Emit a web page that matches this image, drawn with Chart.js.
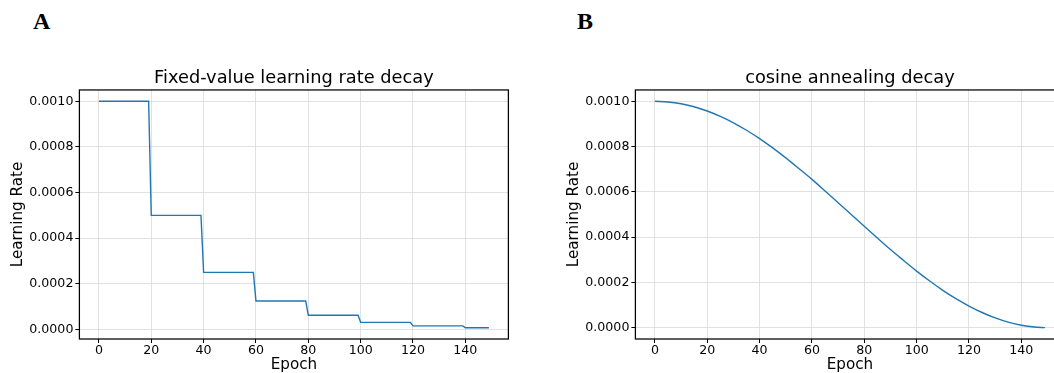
<!DOCTYPE html>
<html><head><meta charset="utf-8">
<script src="https://cdn.jsdelivr.net/npm/chart.js@4.4.0/dist/chart.umd.min.js"></script>
<style>
html,body{margin:0;padding:0;width:1054px;height:373px;overflow:hidden;background:#fff;}
canvas{position:absolute;top:0;}
.lab{position:absolute;top:9px;font-family:"Liberation Serif","Times New Roman",serif;font-weight:bold;font-size:24px;line-height:1;color:#000;}
</style></head><body>
<div class="lab" style="left:33px">A</div>
<div class="lab" style="left:577px">B</div>
<canvas id="c1" width="520" height="373" style="left:0px"></canvas>
<canvas id="c2" width="520" height="373" style="left:556px"></canvas>
<script>
// ---- data ----
const stepEpochs = [0, 19, 20, 39, 40, 59, 60, 79, 80, 99, 100, 119, 120, 139, 140, 149];
const stepRates  = [0.001, 0.001, 0.0005, 0.0005, 0.00025, 0.00025, 0.000125, 0.000125,
                    0.0000625, 0.0000625, 0.00003125, 0.00003125, 0.0000156, 0.0000156, 0.0000078, 0.0000078];
const cosEpochs = [0, 5, 10, 15, 20, 25, 30, 35, 40, 45, 50, 55, 60, 65, 70, 75, 80, 85, 90, 95,
                   100, 105, 110, 115, 120, 125, 130, 135, 140, 145, 149];
const cosRates  = [0.001, 0.000997, 0.000989, 0.000976, 0.000957, 0.000933, 0.000905, 0.000872,
                   0.000835, 0.000794, 0.00075, 0.000703, 0.000655, 0.000604, 0.000552, 0.0005,
                   0.000448, 0.000396, 0.000345, 0.000297, 0.00025, 0.000206, 0.000165, 0.000128,
                   0.0000955, 0.000067, 0.0000432, 0.0000245, 0.0000109, 0.0000027, 0.0000001];
const xTickValues = [0, 20, 40, 60, 80, 100, 120, 140];
const yTickValues = [0, 0.0002, 0.0004, 0.0006, 0.0008, 0.001];
const titles = ["Fixed-value learning rate decay", "cosine annealing decay"];

const FONT = "'DejaVu Sans', sans-serif";
const frame = {id:'frame', afterDraw(chart){
  const {ctx, chartArea:a} = chart;
  ctx.save(); ctx.strokeStyle='#000'; ctx.lineWidth=1.25;
  ctx.strokeRect(a.left, a.top, a.right-a.left, a.bottom-a.top);
  ctx.restore();
}};

function makeChart(id, title, xs, ys, yMin, yMax, smooth){
  const gridCfg = {color:'#d9d9d9', lineWidth:0.8, drawTicks:true, tickLength:4, tickColor:'#000', tickWidth:1};
  new Chart(document.getElementById(id), {
    type:'line',
    data:{datasets:[{data: xs.map((x,i)=>({x:x, y:ys[i]})), borderColor:'#1f77b4', borderWidth:1.4,
      pointRadius:0, fill:false, tension:0, cubicInterpolationMode: smooth ? 'monotone' : 'default'}]},
    plugins:[frame],
    options:{
      responsive:false, animation:false, devicePixelRatio:1,
      layout:{padding:{left:0, right:11.6, top:67.6, bottom:0}},
      plugins:{
        legend:{display:false}, tooltip:{enabled:false},
        title:{display:true, fullSize:false, text:title, color:'#000', font:{family:FONT, size:17.8, weight:'normal'}, padding:{top:0,bottom:1}}
      },
      scales:{
        x:{type:'linear', min:-7.45, max:156.45, grid:gridCfg, border:{display:false},
          afterBuildTicks: s => { s.ticks = xTickValues.map(v=>({value:v})); },
          afterFit: s => { s.height = 34; },
          ticks:{color:'#000', font:{family:FONT, size:12.6}, padding:0, maxRotation:0, callback: v => String(v)},
          title:{display:true, text:'Epoch', color:'#000', font:{family:FONT, size:15.2}, padding:{top:0,bottom:-1.5}}},
        y:{type:'linear', min:yMin, max:yMax, grid:gridCfg, border:{display:false},
          afterBuildTicks: s => { s.ticks = yTickValues.map(v=>({value:v})); },
          afterFit: s => { s.width = 79.4; },
          ticks:{color:'#000', font:{family:FONT, size:12.6}, padding:2, callback: v => Number(v).toFixed(4)},
          title:{display:true, text:'Learning Rate', color:'#000', font:{family:FONT, size:15.2}, padding:{top:9,bottom:0}}}
      }
    }
  });
}
makeChart('c1', titles[0], stepEpochs, stepRates, -0.0000418, 0.0010496, false);
makeChart('c2', titles[1], cosEpochs, cosRates, -0.00005, 0.00105, true);
</script>
</body></html>
